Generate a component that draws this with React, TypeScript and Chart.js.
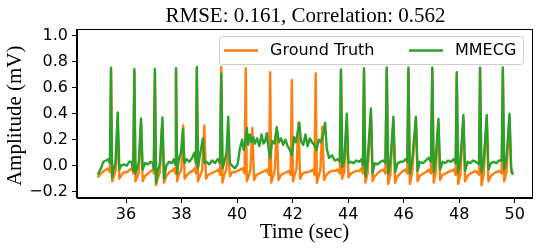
import React, { useEffect, useRef } from "react";
import { Chart, registerables } from "chart.js";

Chart.register(...registerables);

const TITLE = "RMSE: 0.161, Correlation: 0.562";
const X_LABEL = "Time (sec)";
const Y_LABEL = "Amplitude (mV)";
const SERIES_LABELS = ["Ground Truth", "MMECG"];
const SERIES_COLORS = ["#ff7f0e", "#2ca02c"];

const xTicks = [36, 38, 40, 42, 44, 46, 48, 50];
const yTicks = [-0.2, 0, 0.2, 0.4, 0.6, 0.8, 1.0];

// Ground Truth (orange)
const gtTime = [
  34.98, 35.1, 35.2, 35.3, 35.38, 35.42, 35.46, 35.5, 35.56, 35.63, 35.7, 35.76, 35.84, 35.94, 36.04, 36.14, 36.22, 36.26,
  36.3, 36.34, 36.4, 36.46, 36.54, 36.6, 36.68, 36.8, 36.9, 36.98, 37.0, 37.04, 37.08, 37.14, 37.22, 37.31, 37.37, 37.45,
  37.56, 37.66, 37.74, 37.77, 37.8, 37.84, 37.92, 37.99, 38.06, 38.11, 38.2, 38.3, 38.4, 38.48, 38.52, 38.55, 38.59, 38.66,
  38.74, 38.82, 38.88, 38.96, 39.06, 39.16, 39.26, 39.34, 39.39, 39.43, 39.47, 39.54, 39.61, 39.68, 39.74, 39.82, 39.92,
  40.02, 40.12, 40.2, 40.27, 40.31, 40.35, 40.42, 40.48, 40.55, 40.61, 40.7, 40.8, 40.9, 41.0, 41.08, 41.15, 41.19, 41.23,
  41.3, 41.36, 41.43, 41.49, 41.58, 41.68, 41.78, 41.86, 41.93, 41.97, 42.01, 42.08, 42.14, 42.21, 42.27, 42.36, 42.46,
  42.56, 42.66, 42.74, 42.79, 42.83, 42.87, 42.94, 43.0, 43.07, 43.13, 43.22, 43.32, 43.42, 43.52, 43.62, 43.7, 43.74,
  43.78, 43.86, 43.95, 44.01, 44.1, 44.2, 44.3, 44.4, 44.48, 44.53, 44.57, 44.62, 44.7, 44.82, 44.88, 44.96, 45.06, 45.16,
  45.26, 45.34, 45.39, 45.44, 45.52, 45.63, 45.69, 45.78, 45.88, 45.98, 46.06, 46.13, 46.17, 46.22, 46.3, 46.44, 46.5,
  46.58, 46.7, 46.8, 46.9, 46.98, 47.03, 47.08, 47.15, 47.25, 47.31, 47.4, 47.5, 47.6, 47.7, 47.8, 47.87, 47.91, 47.96,
  48.04, 48.15, 48.21, 48.3, 48.4, 48.5, 48.6, 48.72, 48.75, 48.8, 48.88, 48.99, 49.05, 49.14, 49.24, 49.34, 49.44, 49.53,
  49.57, 49.62, 49.7, 49.81, 49.87, 49.93,
];
const gtValues = [
  -0.09, -0.06, -0.04, -0.03, -0.02, -0.05, 0.73, -0.12, -0.08, -0.04, 0.33, -0.1, -0.07, -0.05, -0.05, -0.03, -0.02, -0.06,
  0.72, -0.12, -0.09, -0.05, 0.33, -0.12, -0.08, -0.06, -0.04, -0.03, -0.06, 0.72, -0.15, -0.1, -0.05, 0.34, -0.13, -0.08,
  -0.05, -0.04, -0.02, -0.06, 0.73, -0.12, -0.06, -0.03, 0.31, -0.1, -0.07, -0.05, -0.04, -0.02, -0.06, 0.74, -0.12, -0.08,
  -0.04, 0.31, -0.1, -0.07, -0.06, -0.05, -0.04, -0.03, -0.07, 0.76, -0.13, -0.07, -0.03, 0.15, -0.08, -0.05, -0.05,
  -0.04, -0.03, -0.02, -0.06, 0.75, -0.12, -0.08, -0.03, 0.29, -0.11, -0.07, -0.06, -0.05, -0.04, -0.03, -0.07, 0.72, -0.13,
  -0.08, -0.03, 0.3, -0.11, -0.07, -0.06, -0.05, -0.04, -0.07, 0.66, -0.12, -0.07, -0.02, 0.33, -0.1, -0.06, -0.05,
  -0.05, -0.04, -0.03, -0.07, 0.71, -0.13, -0.08, -0.03, 0.3, -0.11, -0.07, -0.05, -0.04, -0.04, -0.03, -0.06, 0.73,
  -0.1, -0.05, 0.33, -0.09, -0.06, -0.05, -0.04, -0.04, -0.02, -0.06, 0.73, -0.13, -0.06, 0.4, -0.12, -0.08, -0.06, -0.04,
  -0.03, -0.06, 0.74, -0.14, -0.07, 0.34, -0.13, -0.08, -0.06, -0.04, -0.03, -0.06, 0.74, -0.14, -0.06, 0.35, -0.12,
  -0.08, -0.06, -0.05, -0.03, -0.06, 0.74, -0.13, -0.06, 0.33, -0.11, -0.07, -0.06, -0.05, -0.04, -0.03, -0.07, 0.71, -0.14,
  -0.07, 0.35, -0.12, -0.08, -0.06, -0.05, -0.04, -0.07, 0.74, -0.15, -0.07, 0.36, -0.12, -0.08, -0.06, -0.05, -0.04, -0.06,
  0.74, -0.12, -0.05, 0.37, -0.05, -0.06,
];

// MMECG (green)
const mmTime = [
  34.98, 35.1, 35.18, 35.28, 35.36, 35.42, 35.46, 35.5, 35.55, 35.62, 35.7, 35.76, 35.82, 35.92, 36.02, 36.12, 36.2, 36.26,
  36.3, 36.34, 36.4, 36.46, 36.54, 36.6, 36.68, 36.78, 36.88, 36.96, 37.0, 37.04, 37.08, 37.14, 37.22, 37.31, 37.37, 37.45,
  37.55, 37.65, 37.73, 37.77, 37.8, 37.84, 37.9, 37.98, 38.05, 38.1, 38.18, 38.28, 38.38, 38.46, 38.52, 38.55, 38.59, 38.66,
  38.77, 38.82, 38.9, 39.0, 39.1, 39.2, 39.3, 39.38, 39.43, 39.48, 39.55, 39.62, 39.68, 39.74, 39.82, 39.92, 40.02, 40.1,
  40.18, 40.24, 40.3, 40.35, 40.4, 40.46, 40.52, 40.58, 40.64, 40.72, 40.8, 40.88, 40.95, 41.01, 41.07, 41.14, 41.19, 41.26,
  41.34, 41.43, 41.5, 41.58, 41.66, 41.74, 41.82, 41.9, 41.97, 42.05, 42.12, 42.24, 42.3, 42.38, 42.46, 42.54, 42.62, 42.7,
  42.78, 42.86, 42.94, 43.02, 43.1, 43.17, 43.23, 43.31, 43.42, 43.52, 43.62, 43.7, 43.74, 43.79, 43.86, 43.95, 44.01, 44.1,
  44.2, 44.3, 44.4, 44.48, 44.53, 44.57, 44.62, 44.7, 44.82, 44.88, 44.96, 45.06, 45.16, 45.26, 45.34, 45.39, 45.44, 45.52,
  45.63, 45.69, 45.78, 45.88, 45.98, 46.06, 46.13, 46.17, 46.22, 46.3, 46.44, 46.5, 46.58, 46.7, 46.8, 46.9, 46.98, 47.03,
  47.08, 47.15, 47.25, 47.31, 47.4, 47.5, 47.6, 47.7, 47.8, 47.87, 47.91, 47.96, 48.04, 48.15, 48.21, 48.3, 48.4, 48.5,
  48.6, 48.71, 48.75, 48.8, 48.88, 48.99, 49.05, 49.14, 49.24, 49.34, 49.44, 49.53, 49.57, 49.62, 49.7, 49.81, 49.87, 49.93,
];
const mmValues = [
  -0.07, -0.02, 0.03, 0.04, 0.05, 0.02, 0.754, -0.09, -0.03, 0.02, 0.41, -0.03, 0.0, 0.01, 0.0, 0.03, 0.03, -0.04,
  0.744, -0.06, -0.02, 0.03, 0.364, -0.03, 0.02, 0.01, 0.03, 0.02, -0.03, 0.744, -0.13, -0.04, 0.02, 0.372, -0.1, 0.0,
  0.03, 0.02, 0.05, 0.01, 0.75, -0.06, 0.05, 0.1, 0.28, 0.02, 0.05, 0.03, 0.06, 0.1, 0.02, 0.76, -0.02, 0.08,
  0.21, 0.02, 0.03, 0.01, 0.04, 0.02, 0.05, 0.02, 0.71, -0.02, 0.04, 0.1, 0.377, 0.02, 0.0, -0.02, 0.01, 0.13,
  0.2, 0.12, 0.18, 0.29, 0.16, 0.24, 0.18, 0.22, 0.17, 0.21, 0.15, 0.24, 0.17, 0.19, 0.25, 0.12, 0.06, 0.19,
  0.17, 0.29, 0.18, 0.21, 0.16, 0.2, 0.15, 0.12, 0.08, 0.22, 0.18, 0.33, 0.19, 0.16, 0.24, 0.15, 0.21, 0.18,
  0.16, 0.12, 0.2, 0.18, 0.24, 0.33, 0.13, 0.06, 0.08, 0.04, 0.05, 0.03, 0.74, -0.01, 0.05, 0.4, 0.02, 0.03,
  0.02, 0.04, 0.03, 0.05, 0.0, 0.75, -0.08, 0.04, 0.44, -0.06, 0.02, 0.01, 0.03, 0.04, 0.02, 0.755, -0.06, 0.03,
  0.377, -0.05, 0.02, 0.03, 0.03, 0.05, 0.03, 0.755, -0.06, 0.03, 0.377, -0.04, 0.03, 0.02, 0.04, 0.06, 0.03, 0.755,
  -0.05, 0.05, 0.36, -0.03, 0.03, 0.02, 0.04, 0.03, 0.05, 0.02, 0.72, -0.05, 0.04, 0.39, -0.04, 0.03, 0.02, 0.04,
  0.03, 0.01, 0.755, -0.05, 0.04, 0.39, -0.03, 0.02, 0.03, 0.02, 0.04, 0.04, 0.755, -0.03, 0.05, 0.4, -0.02, -0.07,
];

const X_MIN = 34.235;
const X_MAX = 50.62;
const Y_MIN = -0.2485;
const Y_MAX = 1.0515;

const TICK_FONT = '"DejaVu Sans", sans-serif';
const SERIF_FONT = '"Liberation Serif", "Times New Roman", serif';

const decorPlugin = {
  id: "decor",
  afterDatasetsDraw(chart: any) {
    const ctx = chart.ctx;
    const a = chart.chartArea;
    ctx.save();
    // frame
    ctx.strokeStyle = "#000";
    ctx.lineWidth = 1;
    ctx.strokeRect(Math.round(a.left) - 0.5, Math.round(a.top) + 0.5, Math.round(a.right - a.left) + 1, Math.round(a.bottom - a.top) - 1);

    // legend
    const lx = 219.5, ly = 36.5, lw = 304, lh = 28, r = 3;
    ctx.beginPath();
    ctx.moveTo(lx + r, ly);
    ctx.lineTo(lx + lw - r, ly);
    ctx.quadraticCurveTo(lx + lw, ly, lx + lw, ly + r);
    ctx.lineTo(lx + lw, ly + lh - r);
    ctx.quadraticCurveTo(lx + lw, ly + lh, lx + lw - r, ly + lh);
    ctx.lineTo(lx + r, ly + lh);
    ctx.quadraticCurveTo(lx, ly + lh, lx, ly + lh - r);
    ctx.lineTo(lx, ly + r);
    ctx.quadraticCurveTo(lx, ly, lx + r, ly);
    ctx.closePath();
    ctx.fillStyle = "rgba(255,255,255,0.8)";
    ctx.fill();
    ctx.strokeStyle = "#cccccc";
    ctx.stroke();

    const cy = 50.5;
    const items = [
      { x0: 224, x1: 258, tx: 270 },
      { x0: 409, x1: 443, tx: 455 },
    ];
    chart.data.datasets.forEach((ds: any, i: number) => {
      const it = items[i];
      ctx.strokeStyle = ds.borderColor;
      ctx.lineWidth = 2.4;
      ctx.beginPath();
      ctx.moveTo(it.x0, cy);
      ctx.lineTo(it.x1, cy);
      ctx.stroke();
      ctx.fillStyle = "#000";
      ctx.font = `16px ${TICK_FONT}`;
      ctx.textAlign = "left";
      ctx.textBaseline = "middle";
      ctx.fillText(ds.label, it.tx, cy);
    });
    ctx.restore();
  },
  afterDraw(chart: any) {
    const ctx = chart.ctx;
    const a = chart.chartArea;
    const cx = (a.left + a.right) / 2;
    ctx.save();
    ctx.fillStyle = "#000";
    ctx.font = `21px ${SERIF_FONT}`;
    ctx.textAlign = "center";
    ctx.textBaseline = "alphabetic";
    ctx.fillText(TITLE, cx + 1, 22);
    ctx.fillText(X_LABEL, cx, 238);
    ctx.translate(21, 115.8);
    ctx.rotate(-Math.PI / 2);
    ctx.fillText(Y_LABEL, 0, 0);
    ctx.restore();
  },
};

export default function App() {
  const ref = useRef<HTMLCanvasElement | null>(null);
  useEffect(() => {
    if (!ref.current) return;
    const chart = new Chart(ref.current, {
      type: "line",
      data: {
        datasets: [
          {
            label: SERIES_LABELS[0],
            data: gtTime.map((x, i) => ({ x, y: gtValues[i] })),
            borderColor: SERIES_COLORS[0],
            backgroundColor: SERIES_COLORS[0],
            borderWidth: 2.4,
            borderJoinStyle: "round",
            pointRadius: 0,
            tension: 0,
            order: 2,
          },
          {
            label: SERIES_LABELS[1],
            data: mmTime.map((x, i) => ({ x, y: mmValues[i] })),
            borderColor: SERIES_COLORS[1],
            backgroundColor: SERIES_COLORS[1],
            borderWidth: 2.4,
            borderJoinStyle: "round",
            pointRadius: 0,
            tension: 0,
            order: 1,
          },
        ],
      },
      options: {
        animation: false,
        responsive: false,
        devicePixelRatio: 1,
        layout: { padding: { left: 0, top: 29, right: 8, bottom: 0 } },
        plugins: {
          legend: { display: false },
          title: { display: false },
          tooltip: { enabled: false },
        },
        scales: {
          x: {
            type: "linear",
            min: X_MIN,
            max: X_MAX,
            afterBuildTicks: (s: any) => {
              s.ticks = xTicks.map((v) => ({ value: v }));
            },
            afterFit: (s: any) => {
              s.height = 54;
            },
            grid: { drawOnChartArea: false, drawTicks: true, tickLength: 5, color: "#000" },
            border: { display: true, color: "#000" },
            ticks: {
              color: "#000",
              font: { family: TICK_FONT, size: 16 },
              padding: 2,
              maxRotation: 0,
              autoSkip: false,
              callback: (v: any) => String(v),
            },
          },
          y: {
            type: "linear",
            min: Y_MIN,
            max: Y_MAX,
            afterBuildTicks: (s: any) => {
              s.ticks = yTicks.map((v) => ({ value: v }));
            },
            afterFit: (s: any) => {
              s.width = 77;
            },
            grid: { drawOnChartArea: false, drawTicks: true, tickLength: 5, color: "#000" },
            border: { display: true, color: "#000" },
            ticks: {
              color: "#000",
              font: { family: TICK_FONT, size: 16 },
              padding: 4,
              autoSkip: false,
              callback: (v: any) => {
                const n = Number(v);
                const s = Math.abs(n).toFixed(1);
                return n < -1e-9 ? "\u2212" + s : s;
              },
            },
          },
        },
      },
      plugins: [decorPlugin],
    });
    return () => chart.destroy();
  }, []);
  return (
    <div style={{ position: "fixed", left: 0, top: 0, width: 540, height: 252, background: "#fff" }}>
      <canvas ref={ref} width={540} height={252} style={{ display: "block" }} />
    </div>
  );
}
